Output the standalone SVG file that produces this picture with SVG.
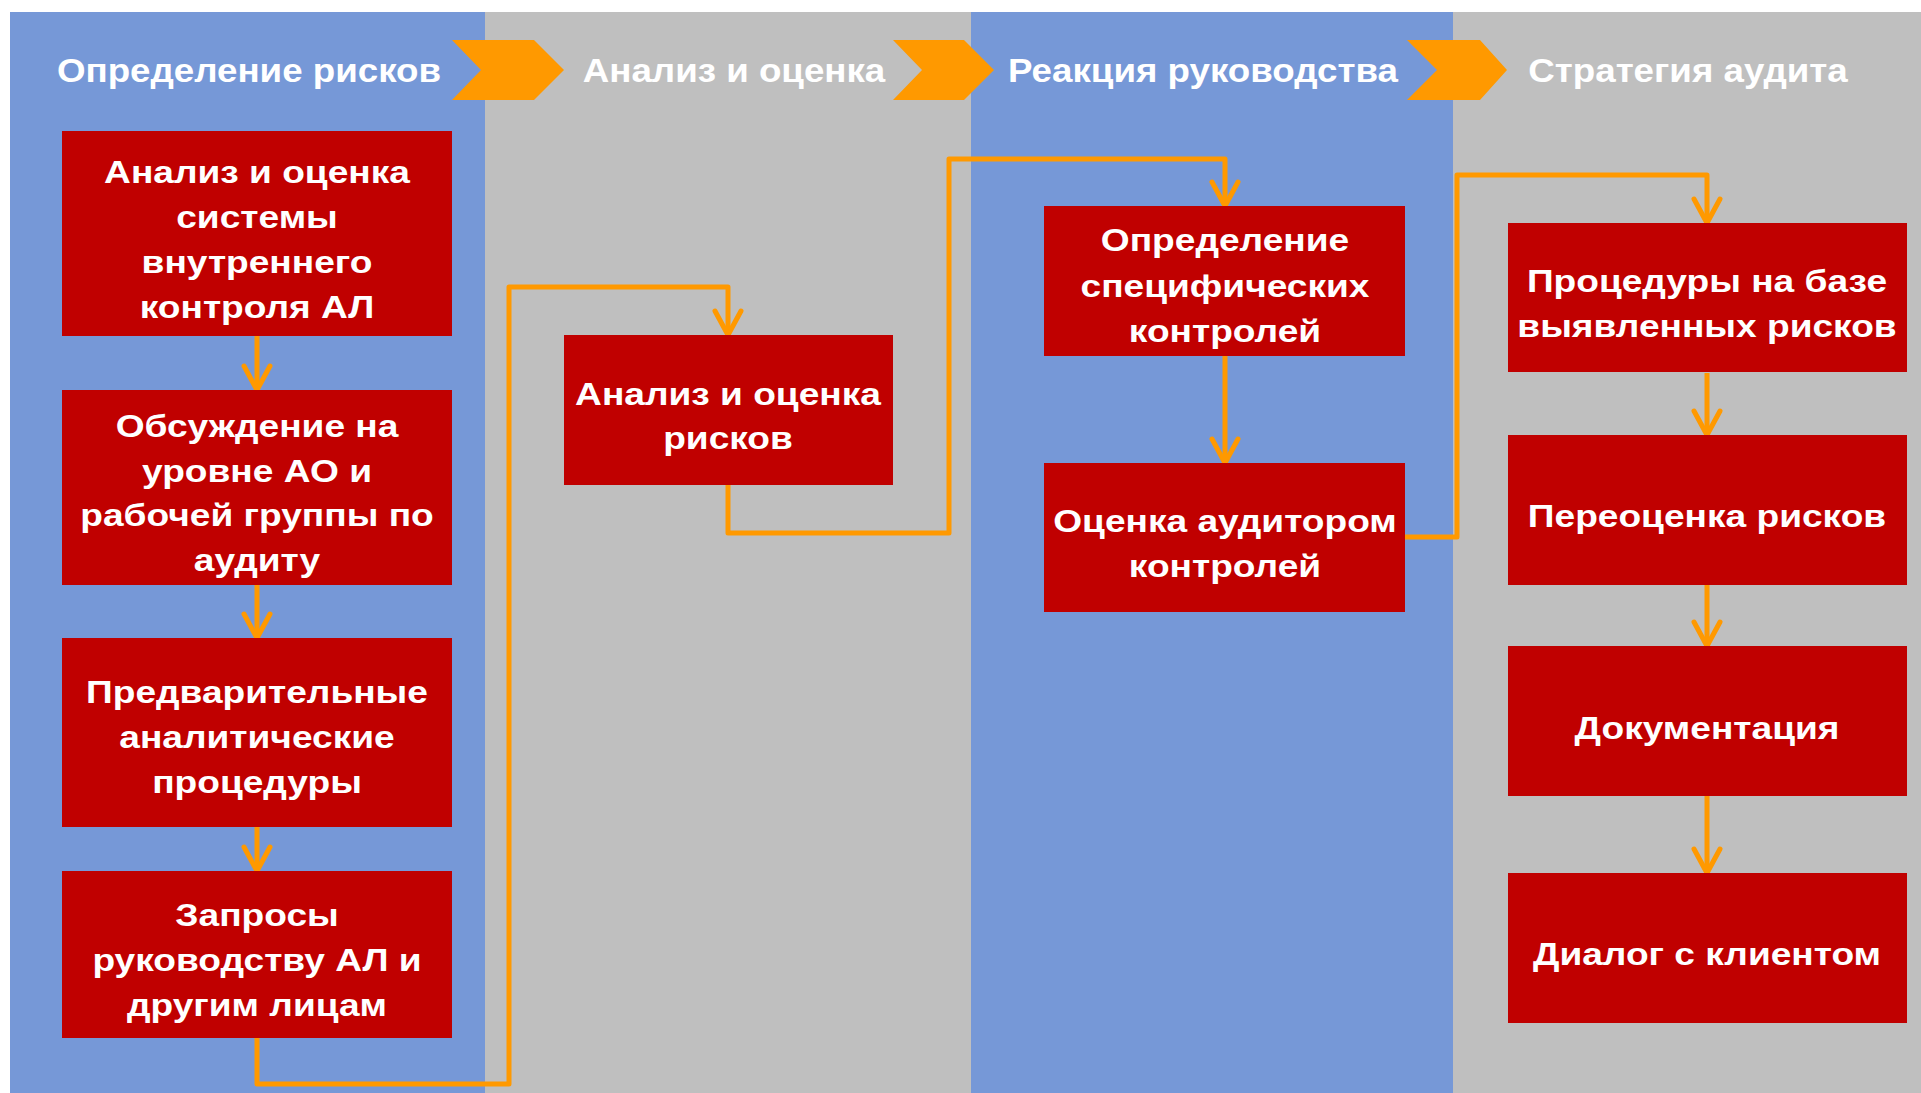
<svg xmlns="http://www.w3.org/2000/svg" width="1921" height="1093" viewBox="0 0 1921 1093">
<defs>
<style>
.lane-b{fill:#7698D7}
.lane-g{fill:#BFBFBF}
.chev{fill:#FF9900}
.box{fill:#C00000}
.hdr{font-family:"Liberation Sans",Arial,sans-serif;font-weight:bold;font-size:34px;fill:#FFFFFF;text-anchor:middle}
.txt{font-family:"Liberation Sans",Arial,sans-serif;font-weight:bold;font-size:32px;fill:#FFFFFF;text-anchor:middle}
.conn{fill:none;stroke:#FF9900;stroke-width:5;stroke-linejoin:round;marker-end:url(#arr)}
</style>
<marker id="arr" markerUnits="userSpaceOnUse" markerWidth="40" markerHeight="40" viewBox="-30 -20 40 40" refX="0" refY="0" orient="auto" overflow="visible">
<path d="M-24,-13 L0,0 L-24,13" fill="none" stroke="#FF9900" stroke-width="5" stroke-linecap="round" stroke-linejoin="round"/>
</marker>
</defs>
<rect width="1921" height="1093" fill="#FFFFFF"/>
<g id="lanes">
<rect class="lane-b" x="10" y="12" width="475" height="1081"/>
<rect class="lane-g" x="485" y="12" width="486" height="1081"/>
<rect class="lane-b" x="971" y="12" width="482" height="1081"/>
<rect class="lane-g" x="1453" y="12" width="468" height="1081"/>
</g>
<g id="headers">
<g transform="translate(249,0) scale(1.08,1)"><text class="hdr" x="0" y="82">Определение рисков</text></g>
<g transform="translate(734,0) scale(1.08,1)"><text class="hdr" x="0" y="82">Анализ и оценка</text></g>
<g transform="translate(1203,0) scale(1.08,1)"><text class="hdr" x="0" y="82">Реакция руководства</text></g>
<g transform="translate(1688,0) scale(1.08,1)"><text class="hdr" x="0" y="82">Стратегия аудита</text></g>
<polygon class="chev" points="452,40 534,40 564,70 534,100 452,100 481,70"/>
<polygon class="chev" points="893,40 964,40 994,70 964,100 893,100 922,70"/>
<polygon class="chev" points="1407,40 1480,40 1507,70 1480,100 1407,100 1437,70"/>
</g>
<g id="connectors">
<path class="conn" d="M257,336 V390"/>
<path class="conn" d="M257,585 V638"/>
<path class="conn" d="M257,827 V871"/>
<path class="conn" d="M257,1038 V1084 H509 V287 H728 V335"/>
<path class="conn" d="M728,485 V533 H949 V159 H1225 V206"/>
<path class="conn" d="M1225,356 V463"/>
<path class="conn" d="M1405,537 H1457 V175 H1707 V223"/>
<path class="conn" d="M1707,373 V435"/>
<path class="conn" d="M1707,585 V646"/>
<path class="conn" d="M1707,796 V873"/>
</g>
<g id="node-a">
<rect class="box" x="62" y="131" width="390" height="205"/>
<g transform="translate(257,0) scale(1.16,1)">
<text class="txt" x="0" y="183">Анализ и оценка</text>
<text class="txt" x="0" y="228">системы</text>
<text class="txt" x="0" y="273">внутреннего</text>
<text class="txt" x="0" y="318">контроля АЛ</text>
</g>
</g>
<g id="node-b">
<rect class="box" x="62" y="390" width="390" height="195"/>
<g transform="translate(257,0) scale(1.16,1)">
<text class="txt" x="0" y="437">Обсуждение на</text>
<text class="txt" x="0" y="482">уровне АО и</text>
<text class="txt" x="0" y="526">рабочей группы по</text>
<text class="txt" x="0" y="571">аудиту</text>
</g>
</g>
<g id="node-c">
<rect class="box" x="62" y="638" width="390" height="189"/>
<g transform="translate(257,0) scale(1.16,1)">
<text class="txt" x="0" y="703">Предварительные</text>
<text class="txt" x="0" y="748">аналитические</text>
<text class="txt" x="0" y="793">процедуры</text>
</g>
</g>
<g id="node-d">
<rect class="box" x="62" y="871" width="390" height="167"/>
<g transform="translate(257,0) scale(1.16,1)">
<text class="txt" x="0" y="926">Запросы</text>
<text class="txt" x="0" y="971">руководству АЛ и</text>
<text class="txt" x="0" y="1016">другим лицам</text>
</g>
</g>
<g id="node-mid">
<rect class="box" x="564" y="335" width="329" height="150"/>
<g transform="translate(728,0) scale(1.16,1)">
<text class="txt" x="0" y="405">Анализ и оценка</text>
<text class="txt" x="0" y="449">рисков</text>
</g>
</g>
<g id="node-e">
<rect class="box" x="1044" y="206" width="361" height="150"/>
<g transform="translate(1225,0) scale(1.16,1)">
<text class="txt" x="0" y="251">Определение</text>
<text class="txt" x="0" y="297">специфических</text>
<text class="txt" x="0" y="342">контролей</text>
</g>
</g>
<g id="node-f">
<rect class="box" x="1044" y="463" width="361" height="149"/>
<g transform="translate(1225,0) scale(1.16,1)">
<text class="txt" x="0" y="532">Оценка аудитором</text>
<text class="txt" x="0" y="577">контролей</text>
</g>
</g>
<g id="node-g">
<rect class="box" x="1508" y="223" width="399" height="149"/>
<g transform="translate(1707,0) scale(1.16,1)">
<text class="txt" x="0" y="292">Процедуры на базе</text>
<text class="txt" x="0" y="337">выявленных рисков</text>
</g>
</g>
<g id="node-h">
<rect class="box" x="1508" y="435" width="399" height="150"/>
<g transform="translate(1707,0) scale(1.16,1)">
<text class="txt" x="0" y="527">Переоценка рисков</text>
</g>
</g>
<g id="node-i">
<rect class="box" x="1508" y="646" width="399" height="150"/>
<g transform="translate(1707,0) scale(1.16,1)">
<text class="txt" x="0" y="739">Документация</text>
</g>
</g>
<g id="node-j">
<rect class="box" x="1508" y="873" width="399" height="150"/>
<g transform="translate(1707,0) scale(1.16,1)">
<text class="txt" x="0" y="965">Диалог с клиентом</text>
</g>
</g>
</svg>
